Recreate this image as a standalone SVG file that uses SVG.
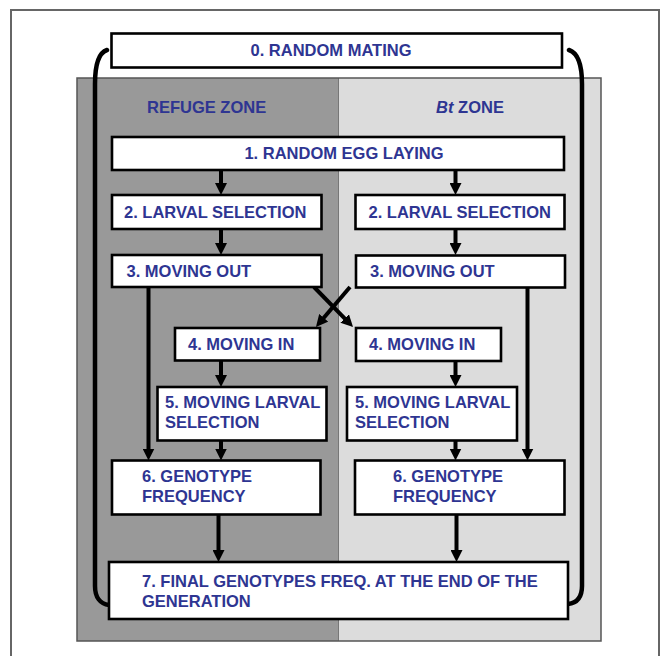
<svg xmlns="http://www.w3.org/2000/svg" width="661" height="656" viewBox="0 0 661 656">
  <defs>
    <marker id="head" markerUnits="userSpaceOnUse" markerWidth="13" markerHeight="12" refX="5.5" refY="6" orient="auto" viewBox="0 0 13 12">
      <path d="M0,0 L12,6 L0,12 z" fill="#000"/>
    </marker>
    <style>
      .box { fill: #fff; stroke: #000; stroke-width: 2.6; }
      .lbl { font-family: "Liberation Sans", Arial, sans-serif; font-weight: bold; font-size: 16.5px; fill: #2e3592; }
      .mid { text-anchor: middle; }
      .arrow { stroke: #000; stroke-width: 4; fill: none; marker-end: url(#head); }
      .loop { stroke: #000; stroke-width: 4.5; fill: none; stroke-linecap: round; }
    </style>
  </defs>

  <rect width="661" height="656" fill="#fff"/>
  <!-- outer frame -->
  <rect x="11" y="10" width="648" height="652" fill="none" stroke="#666" stroke-width="2"/>

  <!-- zone panels -->
  <g id="zones">
    <rect x="77" y="78" width="261" height="563" fill="#999"/>
    <rect x="338" y="78" width="263" height="563" fill="#dcdcdc"/>
    <line x1="338.5" y1="78" x2="338.5" y2="641" stroke="#777" stroke-width="1"/>
    <rect x="77" y="78" width="524" height="563" fill="none" stroke="#555" stroke-width="1.5"/>
    <text class="lbl mid" x="206.6" y="113.3">REFUGE ZONE</text>
    <text class="lbl mid" x="470" y="113.3"><tspan font-style="italic">Bt</tspan> ZONE</text>
  </g>

  <!-- connectors -->
  <g id="connectors">
    <path class="loop" d="M107,50 C98,53 95,65 95,84 L95,586 C95,597 100,604 109,605"/>
    <path class="loop" d="M569,50 C578,53 582,65 582,84 L582,586 C582,597 577,603 568,604"/>
    <line class="arrow" x1="221" y1="170" x2="221" y2="188.5"/>
    <line class="arrow" x1="455.5" y1="170" x2="455.5" y2="188.5"/>
    <line class="arrow" x1="221" y1="229" x2="221" y2="248.5"/>
    <line class="arrow" x1="455.5" y1="229" x2="455.5" y2="248.5"/>
    <line class="arrow" x1="148.5" y1="287" x2="148.5" y2="454"/>
    <line class="arrow" x1="527.5" y1="287.5" x2="527.5" y2="454"/>
    <line class="arrow" x1="314" y1="287" x2="348.5" y2="322.4"/>
    <line class="arrow" x1="350" y1="287" x2="320.2" y2="322"/>
    <line class="arrow" x1="221" y1="360.5" x2="221" y2="380.5"/>
    <line class="arrow" x1="455.5" y1="361" x2="455.5" y2="380.5"/>
    <line class="arrow" x1="221" y1="440.5" x2="221" y2="454"/>
    <line class="arrow" x1="455.5" y1="440.5" x2="455.5" y2="454"/>
    <line class="arrow" x1="218.5" y1="514.5" x2="218.5" y2="555.5"/>
    <line class="arrow" x1="456.5" y1="514.5" x2="456.5" y2="555.5"/>
  </g>

  <!-- steps -->
  <g id="step0">
    <rect class="box" x="111.5" y="33.5" width="450.5" height="34"/>
    <text class="lbl mid" x="331" y="55.5">0. RANDOM MATING</text>
  </g>
  <g id="step1">
    <rect class="box" x="112" y="137" width="452" height="33"/>
    <text class="lbl mid" x="344" y="158.5">1. RANDOM EGG LAYING</text>
  </g>
  <g id="step2-refuge">
    <rect class="box" x="112" y="195" width="209.5" height="34"/>
    <text class="lbl" x="124" y="217.5">2. LARVAL SELECTION</text>
  </g>
  <g id="step2-bt">
    <rect class="box" x="355.5" y="195" width="209" height="34"/>
    <text class="lbl" x="368.5" y="217.5">2. LARVAL SELECTION</text>
  </g>
  <g id="step3-refuge">
    <rect class="box" x="112" y="255" width="209.5" height="32"/>
    <text class="lbl" x="126.5" y="276.5">3. MOVING OUT</text>
  </g>
  <g id="step3-bt">
    <rect class="box" x="356" y="255.5" width="209" height="32"/>
    <text class="lbl" x="370" y="276.5">3. MOVING OUT</text>
  </g>
  <g id="step4-refuge">
    <rect class="box" x="175" y="328" width="145" height="32.5"/>
    <text class="lbl" x="188" y="350">4. MOVING IN</text>
  </g>
  <g id="step4-bt">
    <rect class="box" x="356" y="328" width="145" height="33"/>
    <text class="lbl" x="369" y="350">4. MOVING IN</text>
  </g>
  <g id="step5-refuge">
    <rect class="box" x="157.5" y="387" width="169" height="53.5"/>
    <text class="lbl" x="165" y="408.3">5. MOVING LARVAL</text>
    <text class="lbl" x="165" y="427.5">SELECTION</text>
  </g>
  <g id="step5-bt">
    <rect class="box" x="347" y="387" width="170" height="53.5"/>
    <text class="lbl" x="355" y="408.3">5. MOVING LARVAL</text>
    <text class="lbl" x="355" y="427.5">SELECTION</text>
  </g>
  <g id="step6-refuge">
    <rect class="box" x="112" y="460.5" width="208.5" height="54"/>
    <text class="lbl" x="142" y="482">6. GENOTYPE</text>
    <text class="lbl" x="142" y="502">FREQUENCY</text>
  </g>
  <g id="step6-bt">
    <rect class="box" x="355" y="460.5" width="209.5" height="54"/>
    <text class="lbl" x="393" y="482">6. GENOTYPE</text>
    <text class="lbl" x="393" y="502">FREQUENCY</text>
  </g>
  <g id="step7">
    <rect class="box" x="109" y="562" width="459" height="57"/>
    <text class="lbl" x="142" y="587">7. FINAL GENOTYPES FREQ. AT THE END OF THE</text>
    <text class="lbl" x="142" y="606.5">GENERATION</text>
  </g>
</svg>
